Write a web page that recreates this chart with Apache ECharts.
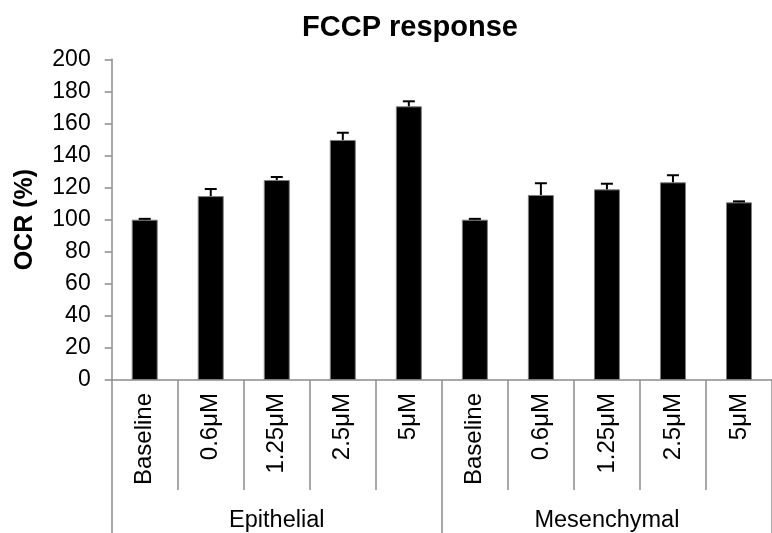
<!DOCTYPE html>
<html>
<head>
<meta charset="utf-8">
<script src="https://cdn.jsdelivr.net/npm/echarts@6/dist/echarts.min.js"></script>
<style>
html,body{margin:0;padding:0;background:#fff;}
#chart{width:772px;height:533px;}
</style>
</head>
<body>
<div id="chart"></div>
<script>
var categories = ['Baseline','0.6μM','1.25μM','2.5μM','5μM','Baseline','0.6μM','1.25μM','2.5μM','5μM'];
var groups = ['Epithelial','Mesenchymal'];
var ocrValues = [100, 114.7, 124.7, 149.7, 170.7, 100, 115.4, 118.9, 123.3, 110.8];
var ocrErrors = [0.5, 4.4, 1.9, 4.5, 3.1, 0.5, 7.3, 3.5, 4.4, 0.6];
var yTicks = [0, 200, 20];

var FONT = "'Liberation Sans', Arial, sans-serif";
var GREY = '#8c8c8c';

var errData = ocrValues.map(function (v, i) { return [i, v, ocrErrors[i]]; });

var chart = echarts.init(document.getElementById('chart'), null, {renderer: 'canvas'});
chart.setOption({
  animation: false,
  backgroundColor: '#ffffff',
  title: {
    text: 'FCCP response',
    left: 405,
    top: 8,
    textAlign: 'center',
    textStyle: {fontFamily: FONT, fontSize: 29, fontWeight: 'bold', color: '#000'}
  },
  grid: {left: 111.7, top: 59.3, width: 667, bottom: 153, containLabel: false},
  xAxis: [{
    type: 'category',
    data: categories,
    axisLine: {lineStyle: {color: GREY, width: 1.5}},
    axisTick: {show: true, interval: 0, length: 110, lineStyle: {color: GREY, width: 1.5}},
    axisLabel: {interval: 0, rotate: 90, margin: 13, fontFamily: FONT, fontSize: 24, color: '#000'},
    splitLine: {show: false}
  }, {
    type: 'category',
    data: groups,
    position: 'bottom',
    axisLine: {show: false},
    axisTick: {show: true, length: 153, lineStyle: {color: GREY, width: 1.5}},
    axisLabel: {margin: 129, fontFamily: FONT, fontSize: 23.5, color: '#000'},
    splitLine: {show: false}
  }],
  yAxis: {
    type: 'value',
    min: yTicks[0],
    max: yTicks[1],
    interval: yTicks[2],
    name: 'OCR (%)',
    nameLocation: 'middle',
    nameGap: 74,
    nameTextStyle: {fontFamily: FONT, fontSize: 25, fontWeight: 'bold', color: '#000'},
    axisLine: {show: true, lineStyle: {color: GREY, width: 1.5}},
    axisTick: {show: true, length: 7, lineStyle: {color: GREY, width: 1.5}},
    axisLabel: {margin: 21, fontFamily: FONT, fontSize: 23, color: '#000'},
    splitLine: {show: false}
  },
  series: [{
    type: 'bar',
    data: ocrValues,
    barWidth: 26,
    itemStyle: {color: '#000', borderColor: '#7f7f7f', borderWidth: 1}
  }, {
    type: 'custom',
    data: errData,
    z: 3,
    renderItem: function (params, api) {
      var i = api.value(0);
      var top = api.coord([i, api.value(1) + api.value(2)]);
      var base = api.coord([i, api.value(1)]);
      var half = 6;
      return {
        type: 'group',
        children: [{
          type: 'line',
          shape: {x1: base[0], y1: base[1], x2: top[0], y2: top[1]},
          style: {stroke: '#000', lineWidth: 2}
        }, {
          type: 'line',
          shape: {x1: top[0] - half, y1: top[1], x2: top[0] + half, y2: top[1]},
          style: {stroke: '#000', lineWidth: 2}
        }]
      };
    }
  }]
});
</script>
</body>
</html>
